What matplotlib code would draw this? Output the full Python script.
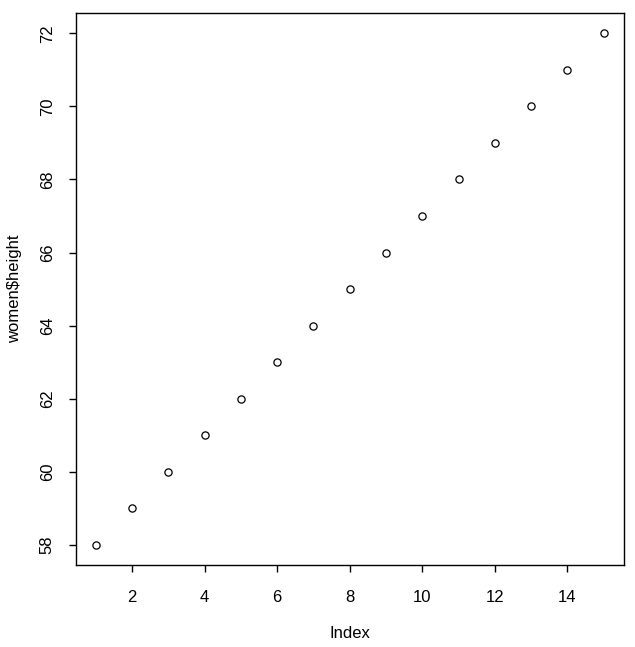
import matplotlib.pyplot as plt
import numpy as np

plt.rcParams['font.family'] = ['Liberation Sans', 'DejaVu Sans']

# women$height dataset
index = np.arange(1, 16)
height = [58, 59, 60, 61, 62, 63, 64, 65, 66, 67, 68, 69, 70, 71, 72]
xticks = [2, 4, 6, 8, 10, 12, 14]
yticks = [58, 60, 62, 64, 66, 68, 70, 72]

fig = plt.figure(figsize=(6.35, 6.47), dpi=100)
ax = fig.add_axes([0.1189, 0.1267, 0.9827 - 0.1189, 0.9799 - 0.1267])

ax.plot(index, height, 'o', markerfacecolor='none', markeredgecolor='black',
        markersize=5.2, markeredgewidth=0.9)

ax.set_xlim(0.44, 15.56)
ax.set_ylim(57.44, 72.56)
ax.set_xticks(xticks)
ax.set_yticks(yticks)
ax.tick_params(axis='both', direction='out', length=5, width=1, labelsize=12, color='black')
ax.tick_params(axis='x', pad=13)
ax.tick_params(axis='y', pad=10)
for lab in ax.get_yticklabels():
    lab.set_rotation(90)
    lab.set_va('center')
for s in ax.spines.values():
    s.set_linewidth(1)

ax.set_xlabel('Index', fontsize=12, labelpad=15)
ax.set_ylabel('women\\$height', fontsize=12, labelpad=13)

fig.savefig('out.png', dpi=100)
